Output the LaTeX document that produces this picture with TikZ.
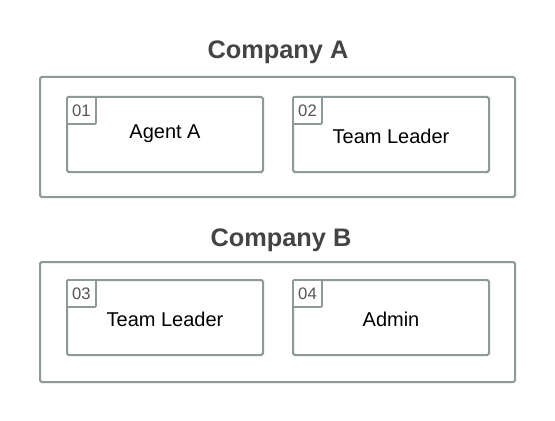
\documentclass[tikz,border=0pt]{standalone}
\usepackage{fontspec}
\setmainfont{Liberation Sans}
\definecolor{frame}{HTML}{8E9A9A}
\definecolor{titlec}{HTML}{444444}
\definecolor{numc}{HTML}{555555}
\begin{document}
\begin{tikzpicture}[x=0.75pt,y=-0.75pt,
  company/.style={draw=frame,line width=1.5pt,rounded corners=1.2pt,fill=white},
  member/.style={draw=frame,line width=1.5pt,rounded corners=1.2pt,fill=white},
  tagbox/.style={draw=frame,line width=1.2pt,rounded corners=0.8pt,fill=white},
  title/.style={font=\fontsize{19}{22}\selectfont\bfseries,text=titlec},
  label/.style={font=\fontsize{15}{18}\selectfont,text=black},
  num/.style={font=\fontsize{12.5}{14}\selectfont,text=numc}]
\useasboundingbox[fill=white] (0,0) rectangle (555,420);
% Company A
\node[title] (tA) at (278,52) {Company A};
\draw[company] (40,77) rectangle (515,197);
\draw[member] (67,97) rectangle (263,172);
\draw[tagbox] (67,97) rectangle (96,124);
\node[num] (n1) at (81.5,111) {01};
\node[label] (a1) at (165,134) {Agent A};
\draw[member] (293,97) rectangle (489,172);
\draw[tagbox] (293,97) rectangle (322,124);
\node[num] (n2) at (307.5,111) {02};
\node[label] (a2) at (391,136) {Team Leader};
% Company B
\node[title] (tB) at (281,240) {Company B};
\draw[company] (40,262) rectangle (515,382);
\draw[member] (67,280) rectangle (263,355);
\draw[tagbox] (67,280) rectangle (96,307);
\node[num] (n3) at (81.5,294) {03};
\node[label] (b1) at (165,319) {Team Leader};
\draw[member] (293,280) rectangle (489,355);
\draw[tagbox] (293,280) rectangle (322,307);
\node[num] (n4) at (307.5,294) {04};
\node[label] (b2) at (391,319) {Admin};
\end{tikzpicture}
\end{document}
